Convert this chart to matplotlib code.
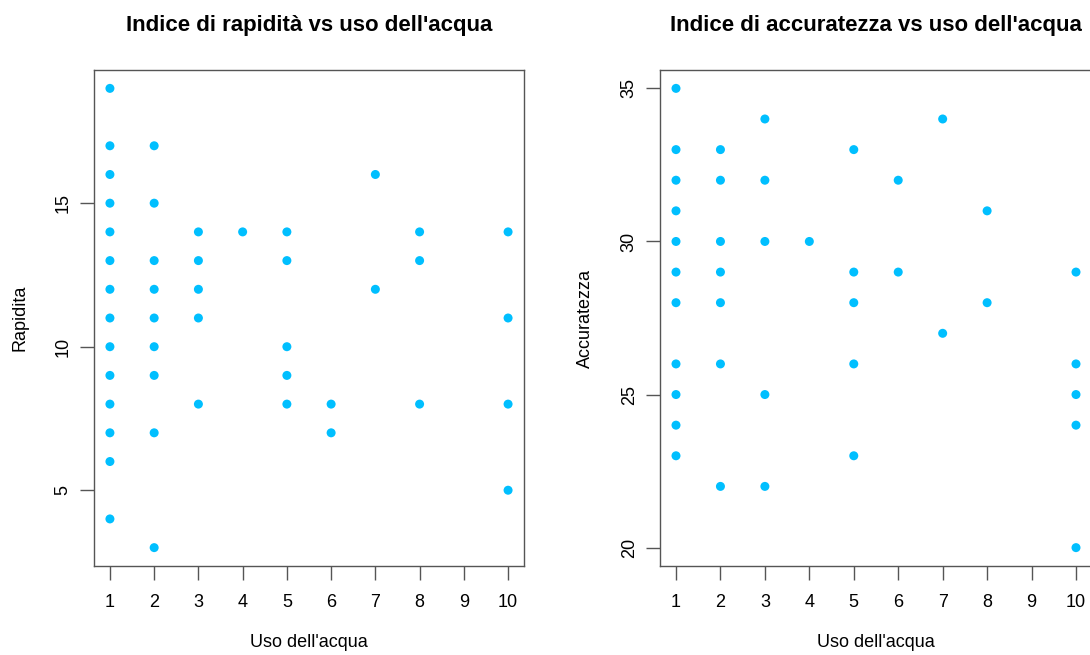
import matplotlib.pyplot as plt

# uso dell'acqua vs rapidita
uso_rap = [1] * 14 + [2] * 9 + [3] * 5 + [4] + [5] * 5 + [6] * 2 + [7] * 2 + [8] * 3 + [10] * 4
rapidita = [19, 17, 16, 15, 14, 13, 12, 11, 10, 9, 8, 7, 6, 4,
            17, 15, 13, 12, 11, 10, 9, 7, 3,
            14, 13, 12, 11, 8,
            14,
            14, 13, 10, 9, 8,
            8, 7,
            16, 12,
            14, 13, 8,
            14, 11, 8, 5]

# uso dell'acqua vs accuratezza
uso_acc = [1] * 11 + [2] * 7 + [3] * 5 + [4] + [5] * 5 + [6] * 2 + [7] * 2 + [8] * 2 + [10] * 5
accuratezza = [35, 33, 32, 31, 30, 29, 28, 26, 25, 24, 23,
               33, 32, 30, 29, 28, 26, 22,
               34, 32, 30, 25, 22,
               30,
               33, 29, 28, 26, 23,
               32, 29,
               34, 27,
               31, 28,
               29, 26, 25, 24, 20]

x_ticks = list(range(1, 11))
rap_ticks = [5, 10, 15]
acc_ticks = [20, 25, 30, 35]

plt.rcParams["font.family"] = "Liberation Sans"

W, H = 1090, 655
fig = plt.figure(figsize=(W / 100, H / 100), dpi=100)
ax1 = fig.add_axes([94 / W, (H - 566) / H, 430 / W, 496 / H])
ax2 = fig.add_axes([660 / W, (H - 566) / H, 432 / W, 496 / H])


def r_style(ax, x, y, yticks, title, ylabel):
    ax.scatter(x, y, s=42, color="#00BFFF", edgecolors="none", zorder=3)
    pad_x = (max(x) - min(x)) * 0.04
    pad_y = (max(y) - min(y)) * 0.04
    ax.set_xlim(min(x) - pad_x, max(x) + pad_x)
    ax.set_ylim(min(y) - pad_y, max(y) + pad_y)
    ax.set_xticks(x_ticks)
    ax.set_yticks(yticks)
    ax.set_yticklabels([str(t) for t in yticks], rotation=90, va="center")
    ax.tick_params(length=10, width=1, color="#555555", labelsize=13)
    ax.tick_params(axis="x", pad=10)
    ax.tick_params(axis="y", pad=6)
    for sp in ax.spines.values():
        sp.set_color("#555555")
        sp.set_linewidth(1)
    ax.set_title(title, fontsize=16, fontweight="bold", pad=28)
    ax.set_xlabel("Uso dell'acqua", fontsize=13, labelpad=17)
    ax.set_ylabel(ylabel, fontsize=13, labelpad=19)


r_style(ax1, uso_rap, rapidita, rap_ticks, "Indice di rapidità vs uso dell'acqua", "Rapidita")
r_style(ax2, uso_acc, accuratezza, acc_ticks, "Indice di accuratezza vs uso dell'acqua", "Accuratezza")

fig.savefig("out.png", dpi=100)
